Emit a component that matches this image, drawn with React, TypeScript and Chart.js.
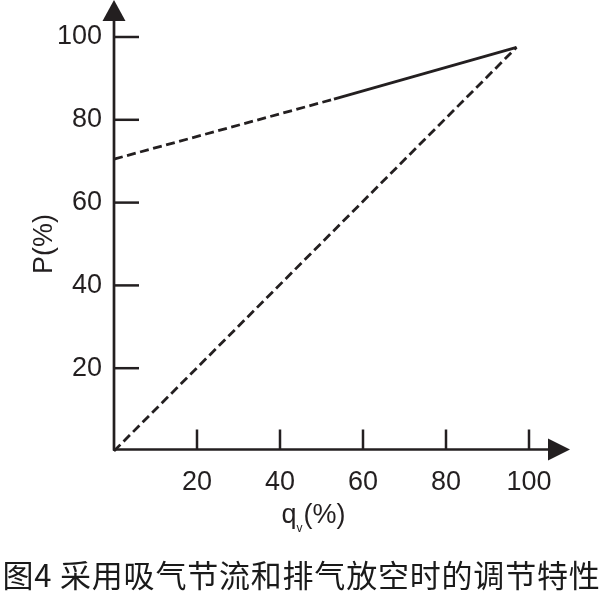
import { useEffect, useRef } from "react";
import { Chart, registerables } from "chart.js";

// tick values on both axes
const xTicks = [20, 40, 60, 80, 100];
const yTicks = [20, 40, 60, 80, 100];

// 吸气节流: dashed part, then solid part
const throttleDashQ = [0, 53];
const throttleDashP = [70.5, 85];
const throttleSolidQ = [53, 97];
const throttleSolidP = [85, 97.5];

// 排气放空
const ventQ = [0, 97];
const ventP = [0, 97.5];

const yTitle = "P(%)";
const caption = "图4 采用吸气节流和排气放空时的调节特性";

const ink = "#231f20";
const sans = "'Liberation Sans', Arial, sans-serif";

const toPoints = (xs: number[], ys: number[]) =>
  xs.map((x, i) => ({ x, y: ys[i] }));

// axes with arrow heads, inward ticks, the q_v(%) title and the caption
const axesPlugin = {
  id: "axesArrows",
  afterDraw(chart: Chart) {
    const { ctx, chartArea, scales, width } = chart;
    const x0 = scales.x.getPixelForValue(0);
    const y0 = scales.y.getPixelForValue(0) - 1.5;
    ctx.save();
    ctx.strokeStyle = ink;
    ctx.fillStyle = ink;
    ctx.lineWidth = 2.7;

    // y axis + arrow
    ctx.beginPath();
    ctx.moveTo(x0, y0 + 1);
    ctx.lineTo(x0, chartArea.top - 18);
    ctx.stroke();
    ctx.beginPath();
    ctx.moveTo(x0, chartArea.top - 37);
    ctx.lineTo(x0 - 11.5, chartArea.top - 16);
    ctx.lineTo(x0 + 11.5, chartArea.top - 16);
    ctx.closePath();
    ctx.fill();

    // x axis + arrow
    ctx.beginPath();
    ctx.moveTo(x0 - 1, y0);
    ctx.lineTo(chartArea.right + 21, y0);
    ctx.stroke();
    ctx.beginPath();
    ctx.moveTo(chartArea.right + 41, y0);
    ctx.lineTo(chartArea.right + 19, y0 - 11);
    ctx.lineTo(chartArea.right + 19, y0 + 11);
    ctx.closePath();
    ctx.fill();

    // ticks pointing into the plot
    ctx.lineWidth = 2.5;
    yTicks.forEach((v) => {
      const py = scales.y.getPixelForValue(v);
      ctx.beginPath();
      ctx.moveTo(x0, py);
      ctx.lineTo(x0 + 25, py);
      ctx.stroke();
    });
    xTicks.forEach((v) => {
      const px = scales.x.getPixelForValue(v);
      ctx.beginPath();
      ctx.moveTo(px, y0);
      ctx.lineTo(px, y0 - 20);
      ctx.stroke();
    });

    // x title: q with subscript v
    const big = `27px ${sans}`;
    const small = `12px ${sans}`;
    ctx.font = big;
    const wq = ctx.measureText("q").width;
    const wp = ctx.measureText("(%)").width;
    ctx.font = small;
    const wv = ctx.measureText("v").width + 1;
    const cx = (chartArea.left + chartArea.right) / 2 - 8;
    const base = y0 + 73;
    let left = cx - (wq + wv + wp) / 2;
    ctx.textBaseline = "alphabetic";
    ctx.textAlign = "left";
    ctx.font = big;
    ctx.fillText("q", left, base);
    left += wq;
    ctx.font = small;
    ctx.fillText("v", left, base + 9);
    left += wv;
    ctx.font = big;
    ctx.fillText("(%)", left, base);

    // figure caption
    ctx.fillStyle = "#1a1a1a";
    ctx.font = `31px 'Noto Sans CJK SC', sans-serif`;
    (ctx as any).letterSpacing = "0.8px";
    ctx.textAlign = "center";
    ctx.textBaseline = "middle";
    ctx.fillText(caption, width / 2 + 1, y0 + 126);
    ctx.restore();
  },
};

export default function App() {
  const canvasRef = useRef<HTMLCanvasElement>(null);

  useEffect(() => {
    const ctx = canvasRef.current!.getContext("2d")!;
    Chart.register(...registerables);

    const line = {
      borderColor: ink,
      borderWidth: 2.8,
      pointRadius: 0,
      showLine: true,
      fill: false,
      clip: 6,
    };

    const chart = new Chart(ctx, {
      type: "scatter",
      data: {
        datasets: [
          {
            data: toPoints(throttleDashQ, throttleDashP),
            borderDash: [9, 4.5],
            ...line,
          },
          {
            data: toPoints(throttleSolidQ, throttleSolidP),
            ...line,
          },
          {
            data: toPoints(ventQ, ventP),
            borderDash: [9, 4.5],
            ...line,
          },
        ],
      },
      options: {
        responsive: false,
        animation: false,
        layout: { padding: { top: 37, right: 72, left: 0, bottom: 0 } },
        scales: {
          x: {
            type: "linear",
            min: 0,
            max: 100,
            afterFit: (scale: any) => {
              scale.height = 140;
            },
            grid: { display: false, drawTicks: false },
            border: { display: false },
            ticks: {
              stepSize: 20,
              padding: 15,
              color: ink,
              font: { family: sans, size: 27 },
              callback: (v: any) => (v === 0 ? "" : v),
            },
          },
          y: {
            min: 0,
            max: 100,
            afterFit: (scale: any) => {
              scale.width = 114;
            },
            grid: { display: false, drawTicks: false },
            border: { display: false },
            ticks: {
              stepSize: 20,
              padding: 12,
              color: ink,
              font: { family: sans, size: 27 },
              callback: (v: any) => (v === 0 ? "" : v),
            },
            title: {
              display: true,
              text: yTitle,
              color: ink,
              padding: { top: 28, bottom: 0 },
              font: { family: sans, size: 27 },
            },
          },
        },
        plugins: {
          legend: { display: false },
          tooltip: { enabled: false },
        },
      },
      plugins: [axesPlugin],
    });

    return () => {
      chart.destroy();
    };
  }, []);

  return (
    <div style={{ position: "absolute", left: 0, top: 0, width: 601, height: 591, background: "#fff" }}>
      <canvas ref={canvasRef} width={601} height={591} />
    </div>
  );
}
